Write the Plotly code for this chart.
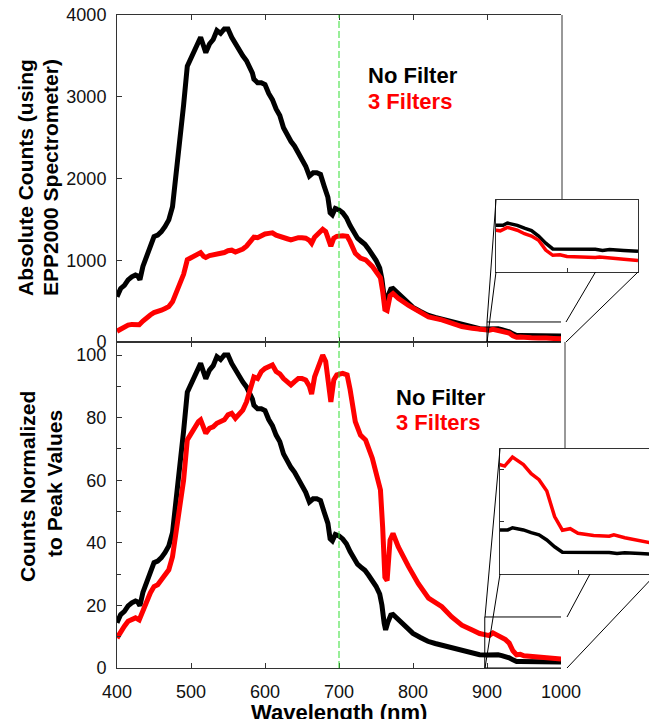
import plotly.graph_objects as go

# ---------------- data ----------------
wl_black = [400,405,410,415,420,425,428,431,435,440,445,450,455,460,465,470,475,480,485,490,495,500,505,510,
            513,517,520,525,530,535,540,545,550,555,560,565,570,575,580,583,585,590,595,600,605,610,615,620,
            625,630,635,640,645,650,655,660,665,670,675,680,685,688,691,695,700,705,710,715,720,725,730,735,
            740,745,750,755,758,761,763,766,770,773,780,790,800,810,820,830,840,850,860,870,880,890,900,905,
            908,915,920,925,930,935,940,945,950,960,970,975,980,990,1000]
cnt_black = [555,655,693,760,797,820,808,762,924,1040,1155,1290,1309,1350,1413,1494,1655,2065,2370,2900,3375,3468,3580,3685,
             3727,3620,3540,3645,3700,3810,3775,3830,3830,3727,3645,3560,3500,3440,3350,3290,3215,3172,3172,3150,3040,2965,2850,2770,
             2620,2520,2455,2395,2310,2230,2150,2030,2070,2070,2050,1905,1770,1580,1555,1635,1617,1580,1520,1425,1330,1270,1232,1195,
             1135,1078,1000,905,770,550,466,560,647,655,590,500,424,373,327,300,277,250,220,193,173,162,160,162,
             170,162,152,144,125,100,80,80,78,78,79,75,78,75,72]

wl_red = [400,405,410,415,420,425,430,435,440,445,450,455,460,465,470,475,480,485,490,495,500,505,510,513,517,
          520,525,530,535,540,545,550,555,560,565,570,575,580,585,590,595,600,605,610,615,620,625,630,635,640,
          645,650,655,660,663,667,670,675,678,682,685,689,693,697,705,711,715,718,722,729,736,745,751,756,759,
          762,765,769,773,780,794,807,821,839,852,866,880,890,900,903,908,915,920,925,930,935,940,945,950,960,
          970,973,980,990,1000]
cnt_red = [132,161,184,206,215,221,212,257,301,331,359,367,389,411,433,491,593,712,828,1006,1035,1057,1086,1094,1049,
           1035,1057,1063,1079,1086,1094,1116,1123,1101,1116,1137,1173,1225,1283,1276,1307,1321,1329,1336,1307,1297,1276,1263,1248,1263,
           1276,1276,1270,1242,1208,1283,1307,1343,1380,1352,1256,1173,1270,1292,1299,1292,1228,1152,1086,1027,1005,925,858,785,621,
           400,386,564,593,535,447,373,308,270,226,189,167,152,145,143,155,145,133,125,110,76,58,60,54,51,
           50,52,48,44,40]

label_black = "No Filter"
label_red = "3 Filters"
x_ticks = [400, 500, 600, 700, 800, 900, 1000]
top_ticks = [0, 1000, 2000, 3000, 4000]
bot_ticks = [0, 20, 40, 60, 80, 100]

# normalized to peak values
norm_black = [v / max(cnt_black) * 100 for v in cnt_black]
norm_red = [v / max(cnt_red) * 100 for v in cnt_red]

# ---------------- geometry helpers ----------------
W, H = 649, 719
def px(x):
    return x / W
def py(y):
    return 1 - y / H

FONT = "Liberation Sans, Arial, Helvetica, sans-serif"
AX = "#333333"
BLACK = "#000000"
RED = "#ff0000"
LW_MAIN = 5
LW_INSET = 3.5

fig = go.Figure()
# bottom main (normalized)
fig.add_trace(go.Scatter(x=wl_black, y=norm_black, mode="lines", line=dict(color=BLACK, width=LW_MAIN), xaxis="x", yaxis="y"))
fig.add_trace(go.Scatter(x=wl_red, y=norm_red, mode="lines", line=dict(color=RED, width=LW_MAIN), xaxis="x", yaxis="y"))
# top main (counts)
fig.add_trace(go.Scatter(x=wl_black, y=cnt_black, mode="lines", line=dict(color=BLACK, width=LW_MAIN), xaxis="x2", yaxis="y2"))
fig.add_trace(go.Scatter(x=wl_red, y=cnt_red, mode="lines", line=dict(color=RED, width=LW_MAIN), xaxis="x2", yaxis="y2"))
# top inset
fig.add_trace(go.Scatter(x=wl_black, y=cnt_black, mode="lines", line=dict(color=BLACK, width=LW_INSET), xaxis="x3", yaxis="y3"))
fig.add_trace(go.Scatter(x=wl_red, y=cnt_red, mode="lines", line=dict(color=RED, width=LW_INSET), xaxis="x3", yaxis="y3"))
# bottom inset
fig.add_trace(go.Scatter(x=wl_black, y=norm_black, mode="lines", line=dict(color=BLACK, width=LW_INSET), xaxis="x4", yaxis="y4"))
fig.add_trace(go.Scatter(x=wl_red, y=norm_red, mode="lines", line=dict(color=RED, width=LW_INSET), xaxis="x4", yaxis="y4"))

common = dict(showgrid=False, zeroline=False, showline=True, linecolor=AX, linewidth=1,
              ticks="inside", ticklen=5, tickcolor=AX, automargin=False,
              tickfont=dict(family=FONT, size=18, color="#111111"))
small = {k: v for k, v in common.items() if k != "ticklen"}

xdom = [px(117), px(561)]
bot_top_val = (668 - 342) / 3.13

layout = dict(
    width=W, height=H, margin=dict(l=0, r=0, t=0, b=0),
    paper_bgcolor="white", plot_bgcolor="white", showlegend=False,
    xaxis=dict(domain=xdom, range=[400, 1000], anchor="y", tickvals=x_ticks, mirror="ticks",
               ticklabelstandoff=7, **common),
    yaxis=dict(domain=[py(668), py(342)], range=[0, bot_top_val], anchor="x", tickvals=bot_ticks,
               minor=dict(tickvals=[10, 30, 50, 70, 90], ticks="inside", ticklen=4, tickcolor=AX),
               ticklabelstandoff=6, **common),
    xaxis2=dict(domain=xdom, range=[400, 1000], anchor="y2", tickvals=x_ticks, mirror="ticks",
                showticklabels=False, **common),
    yaxis2=dict(domain=[py(342), py(15)], range=[0, 4000], anchor="x2", tickvals=top_ticks,
                ticklabelstandoff=6, **common),
    xaxis3=dict(domain=[px(496), px(638)], range=[900, 1000], anchor="y3", tickvals=[950],
                showticklabels=False, mirror=True, ticklen=4, **small),
    yaxis3=dict(domain=[py(272), py(200)], range=[0, 250], anchor="x3", tickvals=[],
                showticklabels=False, mirror=True, **common),
    xaxis4=dict(domain=[px(500), 1.0], range=[900, 900 + 149 / 1.56], anchor="y4", tickvals=[950],
                showticklabels=False, mirror=True, ticklen=4, **small),
    yaxis4=dict(domain=[py(574), py(449)], range=[0, 12], anchor="x4", tickvals=[5, 10],
                showticklabels=False, ticklen=4, **small),
)
fig.update_layout(**layout)

shapes = []
def pline(x0, y0, x1, y1, color="black", width=1, dash=None):
    d = dict(type="line", xref="paper", yref="paper", x0=px(x0), y0=py(y0), x1=px(x1), y1=py(y1),
             line=dict(color=color, width=width))
    if dash:
        d["line"]["dash"] = dash
    shapes.append(d)

# right frames (hidden behind insets)
pline(562, 15, 562, 200, color=AX)
pline(565, 342, 565, 449, color=AX)
# zoom boxes on the main plots
shapes.append(dict(type="rect", xref="x2", yref="y2", x0=900, x1=1006, y0=0, y1=245,
                   line=dict(color="black", width=1)))
shapes.append(dict(type="rect", xref="x", yref="y", x0=897, x1=1007, y0=0, y1=16.3,
                   line=dict(color="black", width=1)))
# connector lines, top
pline(487, 322, 496, 200)
pline(487, 342, 496, 272)
pline(566, 322, 595.5, 272)
pline(566, 342, 638, 272)
# connector lines, bottom
pline(485, 617, 500, 449)
pline(485, 668, 500, 574)
pline(567, 617, 590, 574)
pline(567, 668, 656, 574)
# 700 nm marker
shapes.append(dict(type="line", xref="x", yref="paper", x0=700, x1=700, y0=py(668), y1=py(15),
                   line=dict(color="#33dd33", width=1, dash="7px,3px")))
fig.update_layout(shapes=shapes)

ann = []
def text(x, y, s, color="black", size=22, angle=0, xanchor="center", yanchor="middle"):
    ann.append(dict(x=px(x), y=py(y), xref="paper", yref="paper", text="<b>" + s + "</b>", showarrow=False,
                    textangle=angle, xanchor=xanchor, yanchor=yanchor,
                    font=dict(family=FONT, size=size, color=color)))

text(366, 76, label_black, xanchor="left")
text(366, 102, label_red, color=RED, xanchor="left")
text(394, 397, label_black, xanchor="left")
text(394, 422, label_red, color=RED, xanchor="left")
text(26, 178, "Absolute Counts (using", size=21, angle=-90)
text(51, 178, "EPP2000 Spectrometer)", size=21, angle=-90)
text(27, 487, "Counts Normalized", size=21, angle=-90)
text(54, 484, "to Peak Values", size=21, angle=-90)
text(339, 712, "Wavelength (nm)")
fig.update_layout(annotations=ann)

fig.write_html("out.html")
